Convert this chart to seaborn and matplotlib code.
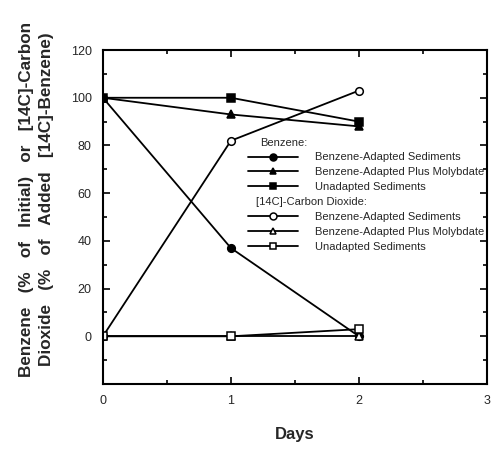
import matplotlib
matplotlib.use("Agg")
import matplotlib.pyplot as plt
import seaborn as sns
import pandas as pd
from matplotlib.lines import Line2D
from matplotlib.ticker import MultipleLocator

sns.set_theme(style="ticks")
plt.rcParams['font.family'] = ['Liberation Sans', 'DejaVu Sans']

days = [0, 1, 2]
benz_adapted = [100, 37, 0]
benz_molyb = [100, 93, 88]
benz_unadapted = [100, 100, 90]
co2_adapted = [0, 82, 103]
co2_molyb = [0, 0, 0]
co2_unadapted = [0, 0, 3]

series = [
    ("Benzene-Adapted Sediments", benz_adapted, "o", "black"),
    ("Benzene-Adapted Plus Molybdate", benz_molyb, "^", "black"),
    ("Unadapted Sediments", benz_unadapted, "s", "black"),
    ("Benzene-Adapted Sediments ", co2_adapted, "o", "white"),
    ("Benzene-Adapted Plus Molybdate ", co2_molyb, "^", "white"),
    ("Unadapted Sediments ", co2_unadapted, "s", "white"),
]

rows = []
for name, vals, m, fc in series:
    for d, v in zip(days, vals):
        rows.append({"Days": d, "Value": v, "Series": name})
df = pd.DataFrame(rows)

fig = plt.figure(figsize=(5.02, 4.55), dpi=100)
ax = fig.add_axes([0.205, 0.156, 0.765, 0.734])

handles = []
for name, vals, m, fc in series:
    sub = df[df["Series"] == name]
    sns.lineplot(data=sub, x="Days", y="Value", ax=ax, color="black", lw=1.3,
                 marker=m, markersize=5.5, markerfacecolor=fc,
                 markeredgecolor="black", markeredgewidth=1.1, legend=False)
    handles.append(Line2D([], [], color="black", lw=1.3, marker=m, markersize=5,
                          markerfacecolor=fc, markeredgecolor="black",
                          markeredgewidth=1.1))

ax.set_xlim(0, 3)
ax.set_ylim(-20, 120)
ax.set_xticks([0, 1, 2, 3])
ax.set_yticks([0, 20, 40, 60, 80, 100, 120])
ax.xaxis.set_minor_locator(MultipleLocator(0.5))
ax.yaxis.set_minor_locator(MultipleLocator(10))
ax.tick_params(which="both", direction="in", top=True, right=True, labelsize=9,
               color="black", width=1.2)
ax.tick_params(which="major", length=5, pad=8)
ax.tick_params(which="minor", length=3)
for s in ax.spines.values():
    s.set_linewidth(1.5)
    s.set_color("black")

ax.set_xlabel("Days", fontsize=12, fontweight="bold", labelpad=14)
gap = "   "
ax.set_ylabel(f"Benzene{gap}(%{gap}of{gap}Initial){gap}or{gap}[14C]-Carbon\n"
              f"Dioxide{gap}(%{gap}of{gap}Added{gap}[14C]-Benzene)",
              fontsize=12.3, fontweight="bold", linespacing=1.45)
ax.yaxis.set_label_coords(-0.127, 0.554)

blank = Line2D([], [], color="none")
leg_handles = [blank] + handles[:3] + [blank] + handles[3:]
leg_labels = [" "] + [s[0].strip() for s in series[:3]] + [" "] + [s[0].strip() for s in series[3:]]
leg = ax.legend(leg_handles, leg_labels, loc="upper left",
                bbox_to_anchor=(0.378, 0.738), frameon=False, fontsize=8,
                handlelength=4.5, handletextpad=1.5, labelspacing=0.44,
                borderaxespad=0, borderpad=0)

fig.canvas.draw()
inv = ax.transAxes.inverted()
texts = leg.get_texts()
for idx, label, xf in [(0, "Benzene:", 0.409), (4, "[14C]-Carbon Dioxide:", 0.398)]:
    bb = texts[idx].get_window_extent()
    yc = inv.transform(((bb.x0 + bb.x1) / 2, (bb.y0 + bb.y1) / 2))[1]
    ax.text(xf, yc, label, transform=ax.transAxes, fontsize=8, va="center")

fig.savefig("out.png", dpi=100)
